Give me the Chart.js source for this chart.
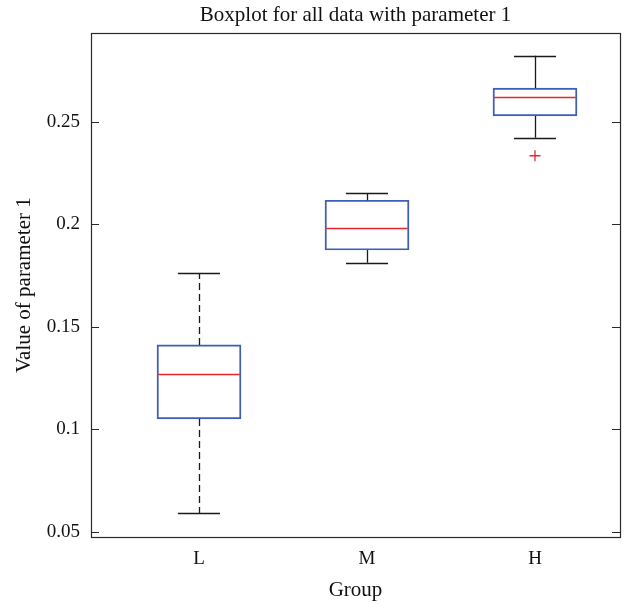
<!DOCTYPE html>
<html><head><meta charset="utf-8">
<script src="https://cdn.jsdelivr.net/npm/chart.js@4/dist/chart.umd.min.js"></script>
<style>html,body{margin:0;padding:0;background:#fff}#wrap{width:633px;height:604px}</style>
</head><body><div id="wrap"><canvas id="c" width="633" height="604"></canvas></div>
<script>
// ---- data ----
const groups = ['L', 'M', 'H'];
const groupPos = [1, 2, 3];
const whiskerLow  = [0.0590, 0.1812, 0.2422];
const q1          = [0.1050, 0.1874, 0.2528];
const median      = [0.1269, 0.1980, 0.2620];
const q3          = [0.1411, 0.2117, 0.2664];
const whiskerHigh = [0.1760, 0.2152, 0.2822];
const outlierGroup = [3];
const outlierValue = [0.2334];
const yTickValues = [0.05, 0.1, 0.15, 0.2, 0.25];
const yTickLabels = ['0.05', '0.1', '0.15', '0.2', '0.25'];

// ---- style ----
const FONT = 'Liberation Serif, Times New Roman, serif';
const BOX_COLOR = '#3f5fb5';
const MED_COLOR = '#e8262b';
const WHISK_COLOR = '#1a1a1a';
const FRAME_COLOR = '#2a2a2a';
const whiskerDashed = [true, false, false];

const boxPlugin = {
  id: 'boxExtras',
  afterDatasetsDraw(chart) {
    const {ctx, chartArea: ca, scales: {x, y}} = chart;
    ctx.save();
    groupPos.forEach((g, i) => {
      const px = Math.round(x.getPixelForValue(g)) + 0.5;
      const capL = x.getPixelForValue(g - 0.125), capR = x.getPixelForValue(g + 0.125);
      ctx.strokeStyle = WHISK_COLOR;
      ctx.lineWidth = 1.3;
      ctx.setLineDash(whiskerDashed[i] ? [7, 4] : []);
      ctx.beginPath();
      ctx.moveTo(px, y.getPixelForValue(q3[i]));
      ctx.lineTo(px, y.getPixelForValue(whiskerHigh[i]));
      ctx.moveTo(px, y.getPixelForValue(q1[i]));
      ctx.lineTo(px, y.getPixelForValue(whiskerLow[i]));
      ctx.stroke();
      ctx.setLineDash([]);
      ctx.beginPath();
      const yh = Math.round(y.getPixelForValue(whiskerHigh[i])) + 0.5;
      const yl = Math.round(y.getPixelForValue(whiskerLow[i])) + 0.5;
      ctx.moveTo(capL, yh); ctx.lineTo(capR, yh);
      ctx.moveTo(capL, yl); ctx.lineTo(capR, yl);
      ctx.stroke();
      const bl = x.getPixelForValue(g - 0.25), br = x.getPixelForValue(g + 0.25);
      const ym = Math.round(y.getPixelForValue(median[i])) + 0.5;
      ctx.strokeStyle = MED_COLOR;
      ctx.lineWidth = 1.3;
      ctx.beginPath();
      ctx.moveTo(bl + 1.2, ym); ctx.lineTo(br - 1.2, ym);
      ctx.stroke();
    });
    ctx.strokeStyle = FRAME_COLOR;
    ctx.lineWidth = 1.2;
    ctx.strokeRect(Math.round(ca.left) + 0.5, Math.round(ca.top) + 0.5,
                   Math.round(ca.right - ca.left), Math.round(ca.bottom - ca.top));
    ctx.beginPath();
    yTickValues.forEach(v => {
      const yy = Math.round(y.getPixelForValue(v)) + 0.5;
      ctx.moveTo(ca.left, yy); ctx.lineTo(ca.left + 8, yy);
      ctx.moveTo(ca.right, yy); ctx.lineTo(ca.right - 8, yy);
    });
    ctx.stroke();
    ctx.restore();
  }
};

new Chart(document.getElementById('c'), {
  type: 'bar',
  data: {
    datasets: [
      {
        type: 'bar',
        data: groupPos.map((g, i) => ({x: g, y: [q1[i], q3[i]]})),
        backgroundColor: 'rgba(0,0,0,0)',
        borderColor: BOX_COLOR,
        borderWidth: 1.3,
        borderSkipped: false,
        barThickness: 84
      },
      {
        type: 'scatter',
        data: outlierGroup.map((g, i) => ({x: g, y: outlierValue[i]})),
        pointStyle: 'cross',
        pointRadius: 5.5,
        borderColor: MED_COLOR,
        backgroundColor: MED_COLOR,
        borderWidth: 1.3
      }
    ]
  },
  options: {
    responsive: false,
    animation: false,
    events: [],
    layout: {padding: {left: 0, right: 13, top: 0, bottom: 0}},
    plugins: {
      legend: {display: false},
      tooltip: {enabled: false},
      title: {
        display: true,
        fullSize: false,
        text: 'Boxplot for all data with parameter 1',
        color: '#111',
        font: {family: FONT, size: 21, weight: 'normal'},
        padding: {top: 2.6, bottom: 5.2}
      }
    },
    scales: {
      x: {
        type: 'linear',
        offset: false,
        min: 0.357, max: 3.506,
        afterFit: s => { s.height = 67; },
        afterBuildTicks: s => { s.ticks = groupPos.map(v => ({value: v})); },
        grid: {display: false, drawTicks: false},
        border: {display: false},
        ticks: {
          padding: 11,
          color: '#111',
          font: {family: FONT, size: 19},
          callback: v => groups[groupPos.indexOf(v)]
        },
        title: {
          display: true, text: 'Group', color: '#111',
          font: {family: FONT, size: 21},
          padding: {top: 0, bottom: 1.4}
        }
      },
      y: {
        type: 'linear',
        min: 0.04741, max: 0.29327,
        afterFit: s => { s.width = 91; },
        afterBuildTicks: s => { s.ticks = yTickValues.map(v => ({value: v})); },
        grid: {display: false, drawTicks: false},
        border: {display: false},
        ticks: {
          padding: 11,
          color: '#111',
          font: {family: FONT, size: 19},
          callback: v => yTickLabels[yTickValues.indexOf(v)]
        },
        title: {
          display: true, text: 'Value of parameter 1', color: '#111',
          font: {family: FONT, size: 21},
          padding: {top: 11.4, bottom: 0}
        }
      }
    }
  },
  plugins: [boxPlugin]
});
</script>
</body></html>
